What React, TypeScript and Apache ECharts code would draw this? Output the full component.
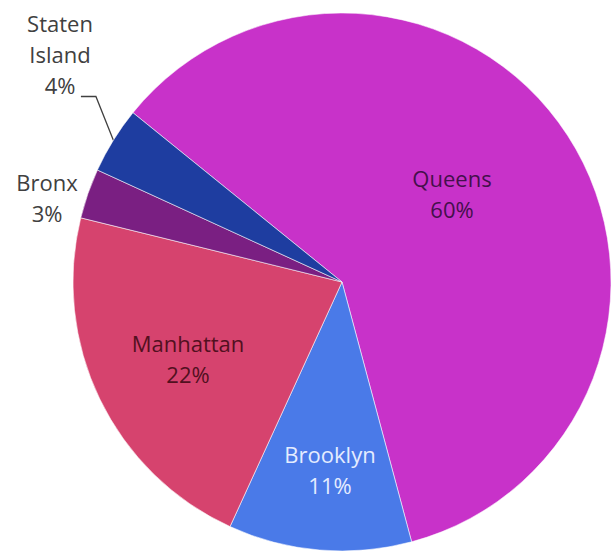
import React, { useEffect, useRef } from "react";
import * as echarts from "echarts";

const boroughs = ["Queens", "Brooklyn", "Manhattan", "Bronx", "Staten Island"];
const shares = [60, 11, 22, 3, 4];
const sliceColors = ["#C832C9", "#4A7AE8", "#D6436E", "#7A1F82", "#1E3DA0"];
const labelColors = ["#44104C", "#E4ECFF", "#52101F", "#404040", "#404040"];
// label anchor points (layout only)
const labelAnchors: [number, number][] = [
  [452, 193],
  [330, 469],
  [188, 358],
  [47, 197],
  [60, 54],
];

const CX = 342;
const CY = 282;
const R = 269;
const START = 141;

export default function App() {
  const ref = useRef<HTMLDivElement>(null);
  useEffect(() => {
    if (!ref.current) return;
    const chart = echarts.init(ref.current, null, { renderer: "svg" });
    const total = shares.reduce((a, b) => a + b, 0);
    const midAngles: number[] = [];
    let acc = 0;
    shares.forEach((v) => {
      const mid = START - ((acc + v / 2) / total) * 360;
      midAngles.push(mid);
      acc += v;
    });
    chart.setOption({
      animation: false,
      backgroundColor: "#ffffff",
      series: [
        {
          type: "pie",
          center: [CX, CY],
          radius: [0, R],
          startAngle: START,
          clockwise: true,
          avoidLabelOverlap: false,
          itemStyle: { borderColor: "rgba(255,255,255,0.55)", borderWidth: 1 },
          label: {
            show: true,
            position: "outside",
            fontFamily: "Open Sans",
            fontSize: 22,
            lineHeight: 31,
            align: "center",
            formatter: (p: any) => `${String(p.name).replace(" ", "\n")}\n${p.value}%`,
          },
          labelLine: { show: false },
          labelLayout: (params: any) => {
            const i = params.dataIndex;
            const [x, y] = labelAnchors[i];
            const res: any = { x, y, align: "center", verticalAlign: "middle" };
            if (i === 4) {
              const a = (midAngles[i] * Math.PI) / 180;
              const ex = CX + R * Math.cos(a);
              const ey = CY - R * Math.sin(a);
              const rect = params.labelRect;
              const lx = x + rect.width / 2 - 12;
              const ly = y + rect.height / 2 - 4;
              res.labelLinePoints = [
                [ex, ey],
                [lx + 15, ly],
                [lx, ly],
              ];
            }
            return res;
          },
          data: boroughs.map((name, i) => ({
            name,
            value: shares[i],
            itemStyle: { color: sliceColors[i] },
            label: { color: labelColors[i] },
            labelLine:
              i === 4
                ? { show: true, lineStyle: { color: "#404040", width: 1.3 } }
                : { show: false },
          })),
        },
      ],
    });
    return () => chart.dispose();
  }, []);
  return (
    <div
      ref={ref}
      style={{ position: "absolute", left: 0, top: 0, width: 613, height: 555 }}
    />
  );
}
